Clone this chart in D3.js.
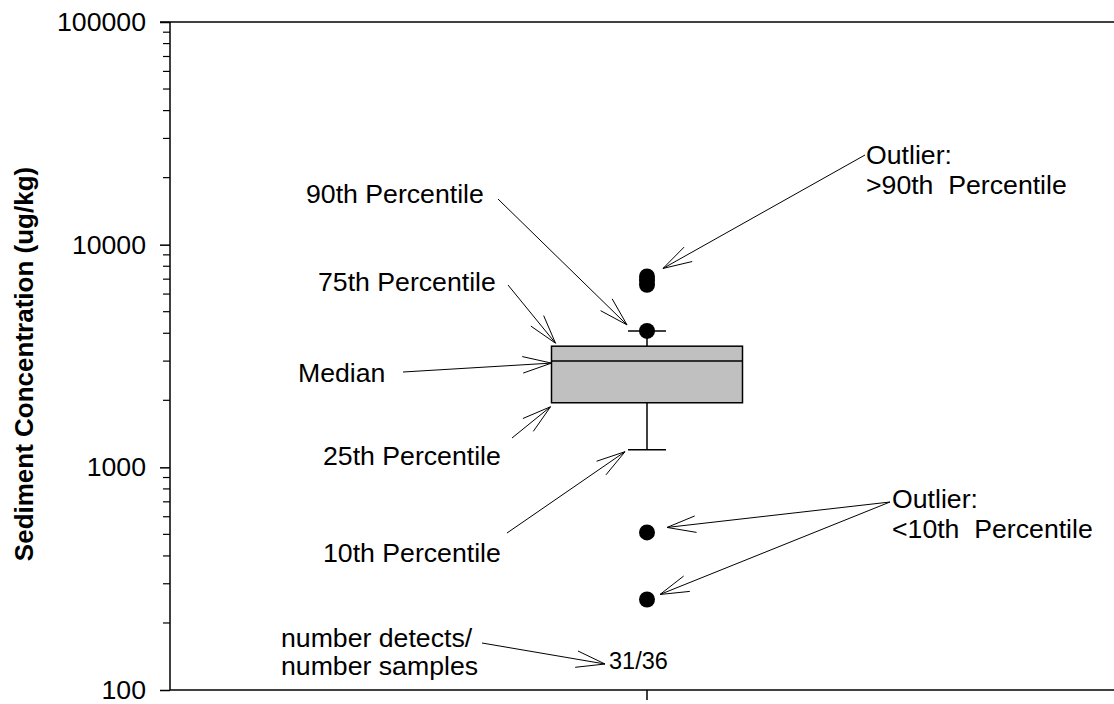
<!DOCTYPE html>
<html><head><meta charset="utf-8">
<script src="https://cdn.jsdelivr.net/npm/d3@7"></script>
<style>
html,body{margin:0;padding:0;background:#fff;}
svg{display:block;font-family:"Liberation Sans",Arial,sans-serif;}
</style></head>
<body>
<svg id="c" width="1114" height="704"></svg>
<script>
// ---- data ----
const categories = ["Site"];
const p10 = [1200];
const p25 = [1950];
const median = [3000];
const p75 = [3500];
const p90 = [4100];
const outliersHigh = [7200, 6900, 6600, 4100];
const outliersLow = [510, 255];
const countLabels = ["31/36"];
const yTickValues = [100, 1000, 10000, 100000];
const yTitle = "Sediment Concentration (ug/kg)";

(function () {
// ---- layout ----
const mLeft = 170, mRight = 1124, mTop = 22, mBottom = 690;
const svg = d3.select("#c");

const y = d3.scaleLog().domain([100, 100000]).range([mBottom, mTop]);
const x = d3.scalePoint().domain(categories).range([mLeft, mRight]).padding(0.5);

const FS = 26.67;
const ink = "#000";

// frame lines (top & bottom)
svg.append("line").attr("x1", mLeft - 10).attr("x2", mRight).attr("y1", mTop).attr("y2", mTop)
  .attr("stroke", ink).attr("stroke-width", 1.5);
svg.append("line").attr("x1", mLeft).attr("x2", mRight).attr("y1", mBottom).attr("y2", mBottom)
  .attr("stroke", ink).attr("stroke-width", 1.5);

// y axis
const yAxis = d3.axisLeft(y).tickValues(yTickValues).tickFormat(d3.format("d")).tickSize(10).tickPadding(14);
const gy = svg.append("g").attr("transform", `translate(${mLeft},0)`).call(yAxis);
gy.select(".domain").attr("stroke-width", 1.5).attr("d", `M0,${mTop}V${mBottom}`);
gy.selectAll(".tick line").attr("stroke-width", 1.5);
gy.selectAll(".tick text").attr("font-size", FS).attr("font-family", '"Liberation Sans",Arial,sans-serif').attr("fill", ink);

// minor ticks
const minor = [];
for (let e = 100; e < 100000; e *= 10) for (let m = 2; m <= 9; m++) minor.push(e * m);
svg.append("g").selectAll("line").data(minor).join("line")
  .attr("x1", mLeft - 7).attr("x2", mLeft).attr("y1", d => y(d)).attr("y2", d => y(d))
  .attr("stroke", ink).attr("stroke-width", 1.2);

// x axis tick
svg.append("g").selectAll("line").data(categories).join("line")
  .attr("x1", d => x(d)).attr("x2", d => x(d)).attr("y1", mBottom).attr("y2", mBottom + 10)
  .attr("stroke", ink).attr("stroke-width", 1.5);

// y title
svg.append("text").attr("transform", `translate(33,${(mTop + mBottom) / 2 + 8}) rotate(-90)`)
  .attr("text-anchor", "middle").attr("font-weight", "bold").attr("font-size", 26).attr("fill", ink)
  .text(yTitle);

// ---- box plot ----
const boxW = 191, capW = 38;
const g = svg.append("g");
categories.forEach((c, i) => {
  const cx = x(c);
  g.append("line").attr("x1", cx).attr("x2", cx).attr("y1", y(p75[i])).attr("y2", y(p90[i])).attr("stroke", ink).attr("stroke-width", 1.5);
  g.append("line").attr("x1", cx).attr("x2", cx).attr("y1", y(p25[i])).attr("y2", y(p10[i])).attr("stroke", ink).attr("stroke-width", 1.5);
  g.append("line").attr("x1", cx - capW / 2).attr("x2", cx + capW / 2).attr("y1", y(p90[i])).attr("y2", y(p90[i])).attr("stroke", ink).attr("stroke-width", 1.5);
  g.append("line").attr("x1", cx - capW / 2).attr("x2", cx + capW / 2).attr("y1", y(p10[i])).attr("y2", y(p10[i])).attr("stroke", ink).attr("stroke-width", 1.5);
  g.append("rect").attr("x", cx - boxW / 2).attr("width", boxW)
    .attr("y", y(p75[i])).attr("height", y(p25[i]) - y(p75[i]))
    .attr("fill", "#c0c0c0").attr("stroke", ink).attr("stroke-width", 1.5);
  g.append("line").attr("x1", cx - boxW / 2).attr("x2", cx + boxW / 2).attr("y1", y(median[i])).attr("y2", y(median[i])).attr("stroke", ink).attr("stroke-width", 1.5);
  g.selectAll(null).data(outliersHigh.concat(outliersLow)).join("circle")
    .attr("cx", cx).attr("cy", d => y(d)).attr("r", 8).attr("fill", ink);
  g.append("text").attr("x", cx - 38).attr("y", 669).attr("font-size", 23.5).attr("fill", ink).text(countLabels[i]);
});

// ---- annotations ----
const cx0 = x(categories[0]);
const bl = cx0 - boxW / 2;
function arrow(x1, y1, x2, y2) {
  svg.append("line").attr("x1", x1).attr("y1", y1).attr("x2", x2).attr("y2", y2).attr("stroke", ink).attr("stroke-width", 1);
  const a = Math.atan2(y1 - y2, x1 - x2), L = 30, h = 16 * Math.PI / 180;
  [a - h, a + h].forEach(t => {
    svg.append("line").attr("x1", x2).attr("y1", y2).attr("x2", x2 + L * Math.cos(t)).attr("y2", y2 + L * Math.sin(t))
      .attr("stroke", ink).attr("stroke-width", 1);
  });
}
function label(lines, xx, yy, lh) {
  const t = svg.append("text").attr("x", xx).attr("y", yy).attr("font-size", FS).attr("fill", ink).attr("xml:space", "preserve");
  lines.forEach((s, k) => t.append("tspan").attr("x", xx).attr("dy", k ? lh : 0).text(s));
}
label(["90th Percentile"], 306, 203);
arrow(498, 199, cx0 - 20, y(p90[0]) - 6);
label(["75th Percentile"], 318, 291);
arrow(508, 285, bl + 4, y(p75[0]) - 3);
label(["Median"], 298, 382);
arrow(403, 372, bl, y(median[0]) + 2);
label(["25th Percentile"], 323, 465);
arrow(512, 438, bl - 1, y(p25[0]) + 4);
label(["10th Percentile"], 323, 562);
arrow(507, 533, cx0 - 22, y(p10[0]) + 2);
label(["Outlier:", ">90th  Percentile"], 866, 164, 30);
arrow(865, 155, cx0 + 16, y(outliersHigh[0]) - 8);
label(["Outlier:", "<10th  Percentile"], 892, 508, 30);
arrow(890, 502, cx0 + 20, y(outliersLow[0]) - 5);
arrow(890, 502, cx0 + 13, y(outliersLow[1]) - 5);
label(["number detects/", "number samples"], 281, 647, 28);
arrow(482, 643, cx0 - 42, 664);
})();
</script>
</body></html>
